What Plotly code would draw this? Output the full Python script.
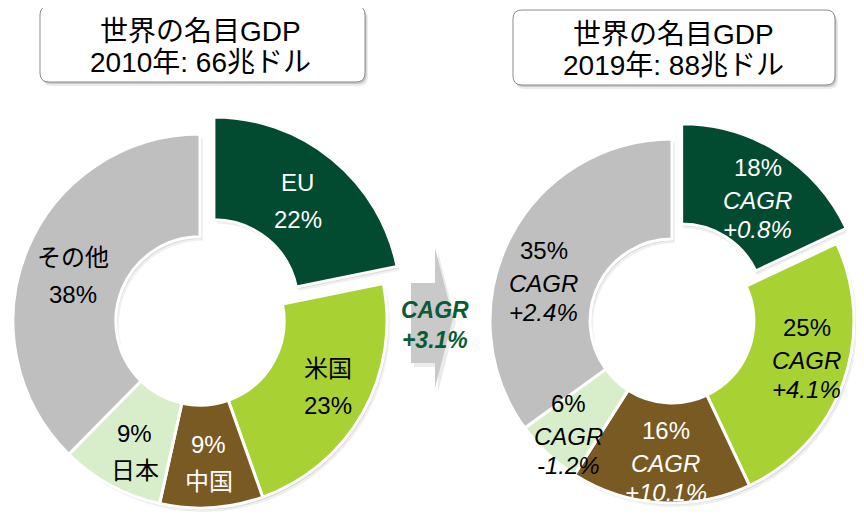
import math
import plotly.graph_objects as go

# data
regions = ["EU", "米国", "中国", "日本", "その他"]
share_2010 = [22, 23, 9, 9, 38]
share_2019 = [18, 25, 16, 6, 35]
cagr_2010_2019 = ["+0.8%", "+4.1%", "+10.1%", "-1.2%", "+2.4%"]
world_cagr = "+3.1%"
title_2010 = ["世界の名目GDP", "2010年: 66兆ドル"]
title_2019 = ["世界の名目GDP", "2019年: 88兆ドル"]

# style
colors = ["#024a30", "#a8d234", "#7a5a23", "#d8edc9", "#bfbfbf"]
text_colors = ["white", "black", "white", "black", "black"]
FONT = "Liberation Sans, Arial, Noto Sans CJK JP, sans-serif"
CLEAR = "rgba(0,0,0,0)"
HOLE = 0.45

# the page has an 8px body margin, so the figure fills the rest of the window
OFF = 8
W, H = 864 - OFF, 520 - OFF


def px(x):
    return (x - OFF) / W


def py(y):
    return 1 - (y - OFF) / H


def domain(cx, cy, r):
    x0, x1 = max(0, px(cx - r)), min(1, px(cx + r))
    y0, y1 = max(0, py(cy + r)), min(1, py(cy - r))
    return dict(x=[x0, x1], y=[y0, y1])


def label(x, y, txt, color):
    fig.add_annotation(x=px(x), y=py(y), xref="paper", yref="paper", text=txt,
                       showarrow=False, xanchor="center", yanchor="middle",
                       font=dict(family=FONT, size=24, color=color))


def add_donut(values, cx, cy, r, pull, texts, gaps, label_r, label_dt):
    tot = sum(values)
    a = math.pi * values[0] / tot
    ox, oy = pull * math.sin(a), -pull * math.cos(a)
    n = len(values)
    common = dict(values=values, labels=regions, sort=False, direction="clockwise",
                  rotation=0, hole=HOLE, textinfo="none", showlegend=False)

    # soft shadows
    for (sx, sy, al) in [(3, 4, 0.06), (1.5, 2, 0.10)]:
        fig.add_trace(go.Pie(**common, domain=domain(cx + sx, cy + sy, r), hoverinfo="skip",
                             marker=dict(colors=[CLEAR] + [f"rgba(0,0,0,{al})"] * (n - 1),
                                         line=dict(width=0))))
        fig.add_trace(go.Pie(**common, domain=domain(cx + ox + sx, cy + oy + sy, r), hoverinfo="skip",
                             marker=dict(colors=[f"rgba(0,0,0,{al})"] + [CLEAR] * (n - 1),
                                         line=dict(width=0))))

    # ring without EU
    fig.add_trace(go.Pie(**common, domain=domain(cx, cy, r), hoverinfo="label+percent",
                         marker=dict(colors=[CLEAR] + colors[1:],
                                     line=dict(color="white", width=[0] + [3] * (n - 1)))))
    # pulled-out EU slice
    fig.add_trace(go.Pie(**common, domain=domain(cx + ox, cy + oy, r), hoverinfo="label+percent",
                         marker=dict(colors=[colors[0]] + [CLEAR] * (n - 1),
                                     line=dict(color="white", width=[3] + [0] * (n - 1)))))

    # slice labels, one annotation per line
    offs = [0]
    for g in gaps:
        offs.append(offs[-1] + g)
    mean = sum(offs) / len(offs)
    cum = 0
    for i, v in enumerate(values):
        t = 2 * math.pi * (cum + v / 2) / tot + math.radians(label_dt[i])
        cum += v
        x = cx + label_r[i] * math.sin(t) + (ox if i == 0 else 0)
        y = cy - label_r[i] * math.cos(t) + (oy if i == 0 else 0)
        for line, o in zip(texts[i], offs):
            label(x, y + o - mean, line, text_colors[i])


def rrect(x0, y0, x1, y1, r):
    p = [(x0 + r, y0), (x1 - r, y0), (x1, y0), (x1, y0 + r), (x1, y1 - r), (x1, y1),
         (x1 - r, y1), (x0 + r, y1), (x0, y1), (x0, y1 - r), (x0, y0 + r), (x0, y0), (x0 + r, y0)]
    s = [f"{px(a):.5f},{py(b):.5f}" for a, b in p]
    return (f"M {s[0]} L {s[1]} Q {s[2]} {s[3]} L {s[4]} Q {s[5]} {s[6]} "
            f"L {s[7]} Q {s[8]} {s[9]} L {s[10]} Q {s[11]} {s[12]} Z")


def poly(pts):
    return "M " + " L ".join(f"{px(a):.5f},{py(b):.5f}" for a, b in pts) + " Z"


fig = go.Figure()

left_texts = [[regions[0], f"{share_2010[0]}%"], [regions[1], f"{share_2010[1]}%"],
              [f"{share_2010[2]}%", regions[2]], [f"{share_2010[3]}%", regions[3]],
              [regions[4], f"{share_2010[4]}%"]]
right_texts = [[f"{s}%", "<i>CAGR</i>", f"<i>{c}</i>"] for s, c in zip(share_2019, cagr_2010_2019)]

add_donut(share_2010, 200, 321, 187, 22, left_texts, gaps=[37],
          label_r=[133, 144, 142, 146, 135], label_dt=[0, -2, 0, -2, -3])
add_donut(share_2019, 672, 321, 182, 18, right_texts, gaps=[33, 29],
          label_r=[131, 140, 141, 154, 134], label_dt=[3, -4, -1, -1, -10])

shapes = []
# title boxes
for (x0, y0, x1, y1) in [(40, 6, 365, 82), (513, 10, 835, 85)]:
    shapes.append(dict(type="path", path=rrect(x0 + 3, y0 + 4, x1 + 3, y1 + 4, 9),
                       fillcolor="rgba(0,0,0,0.08)", line=dict(width=0)))
    shapes.append(dict(type="path", path=rrect(x0 + 1.5, y0 + 2, x1 + 1.5, y1 + 2, 9),
                       fillcolor="rgba(0,0,0,0.15)", line=dict(width=0)))
    shapes.append(dict(type="path", path=rrect(x0, y0, x1, y1, 9),
                       fillcolor="white", line=dict(color="#8c8c8c", width=1)))

# arrow between the donuts
arrow = [(411, 283), (435, 283), (435, 248), (453, 318), (435, 388), (435, 363), (411, 363)]
shapes.append(dict(type="path", path=poly([(a + 3, b + 4) for a, b in arrow]),
                   fillcolor="rgba(0,0,0,0.08)", line=dict(width=0)))
shapes.append(dict(type="path", path=poly(arrow), fillcolor="#c9c9c9", line=dict(width=0)))

for s in shapes:
    s.update(xref="paper", yref="paper", layer="below")
fig.update_layout(shapes=shapes)

for cx, lines, ys in [(200, title_2010, (31, 62)), (673, title_2019, (34, 65))]:
    for txt, y in zip(lines, ys):
        fig.add_annotation(x=px(cx), y=py(y), xref="paper", yref="paper", text=txt,
                           showarrow=False, xanchor="center", yanchor="middle",
                           font=dict(family=FONT, size=28, color="black"))

fig.add_annotation(x=px(435), y=py(325), xref="paper", yref="paper",
                   text=f"<b><i>CAGR<br>{world_cagr}</i></b>", showarrow=False,
                   xanchor="center", yanchor="middle", align="center",
                   font=dict(family=FONT, size=23, color="#0b5a36"))

fig.update_layout(width=W, height=H, margin=dict(l=0, r=0, t=0, b=0),
                  paper_bgcolor="white", plot_bgcolor="white", showlegend=False)

fig.write_html("out.html")
